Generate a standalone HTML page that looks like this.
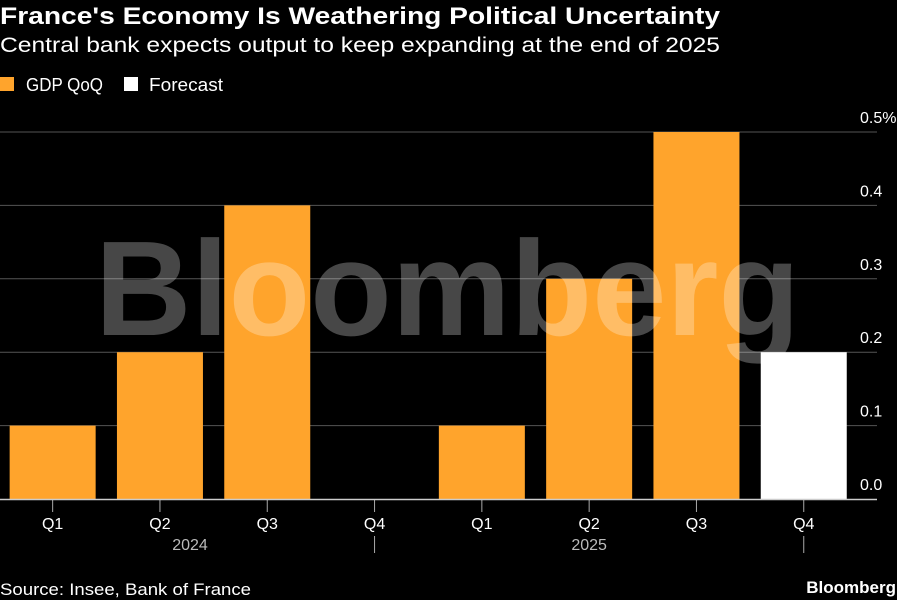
<!DOCTYPE html>
<html><head><meta charset="utf-8"><style>
body{margin:0;background:#000;width:897px;height:600px;overflow:hidden;font-family:"Liberation Sans",sans-serif;color:#fff}
svg{position:absolute;left:0;top:0}
</style></head><body>
<svg width="897" height="600">
<text x="0" y="24" font-size="24" font-weight="bold" fill="#fff" textLength="720" lengthAdjust="spacingAndGlyphs">France's Economy Is Weathering Political Uncertainty</text>
<text x="0" y="52" font-size="21" fill="#fff" textLength="720" lengthAdjust="spacingAndGlyphs">Central bank expects output to keep expanding at the end of 2025</text>
<rect x="0" y="77" width="14" height="14" fill="#ffa42c"/>
<text x="26" y="91" font-size="18" fill="#fff" textLength="77" lengthAdjust="spacingAndGlyphs">GDP QoQ</text>
<rect x="124" y="77" width="14" height="14" fill="#fff"/>
<text x="149" y="91" font-size="18" fill="#fff" textLength="74" lengthAdjust="spacingAndGlyphs">Forecast</text>
<g id="grid"></g>
<g id="bars"></g>
<text x="95" y="335" font-size="135" font-weight="bold" fill="#fff" fill-opacity="0.28" textLength="705" lengthAdjust="spacingAndGlyphs">Bloomberg</text>
<g id="axis"></g>
<text x="0" y="595" font-size="17" fill="#fff" textLength="251" lengthAdjust="spacingAndGlyphs">Source: Insee, Bank of France</text>
<text x="896" y="593" font-size="17" font-weight="bold" fill="#fff" text-anchor="end">Bloomberg</text>
</svg>
<script>
const categories=["Q1","Q2","Q3","Q4","Q1","Q2","Q3","Q4"];
const years=["2024","2025"];
const gdpValues=[0.1,0.2,0.4,0,0.1,0.3,0.5,null];
const forecastValues=[null,null,null,null,null,null,null,0.2];
const yTicks=[0,0.1,0.2,0.3,0.4,0.5];
const yTickLabels=["0.0","0.1","0.2","0.3","0.4","0.5%"];
const NS="http://www.w3.org/2000/svg";
const y0=499,y1=132,vmax=0.5;
const y=v=>y0-(v/vmax)*(y0-y1);
const step=107.3,x0=-1,bw=86;
const xc=i=>x0+step*(i+0.5);
function mk(tag,attrs,parent){const e=document.createElementNS(NS,tag);for(const k in attrs)e.setAttribute(k,attrs[k]);document.getElementById(parent).appendChild(e);return e;}
yTicks.forEach((t,i)=>{
  if(t>0){const l=mk("line",{x1:0,x2:877,y1:y(t),y2:y(t),stroke:"#555","stroke-width":1},"grid");
  
  }
  const tx=mk("text",{x:860,y:y(t)-9,"font-size":16,fill:"#fff"},"grid");
  tx.textContent=yTickLabels[i];
  
  
});
categories.forEach((c,i)=>{
  const g=gdpValues[i],f=forecastValues[i];
  if(g){const r=mk("rect",{x:xc(i)-bw/2,y:y(g),width:bw,height:y0-y(g),fill:"#ffa42c"},"bars");
    
    }
  if(f){const r=mk("rect",{x:xc(i)-bw/2,y:y(f),width:bw,height:y0-y(f),fill:"#fff"},"bars");
    
    }
  const tk=mk("line",{x1:xc(i),x2:xc(i),y1:y0,y2:512,stroke:"#aaa"},"axis");
  
  
  const t=mk("text",{x:xc(i),y:529,"font-size":16,fill:"#fff","text-anchor":"middle"},"axis");
  t.textContent=c;
  
  
  if(i%4==3){const s=mk("line",{x1:xc(i),x2:xc(i),y1:536,y2:553,stroke:"#aaa"},"axis");
    
    }
});
years.forEach((yr,j)=>{
  const t=mk("text",{x:j==0?190:xc(5),y:550,"font-size":16,fill:"#bbb","text-anchor":"middle"},"axis");
  t.textContent=yr;
  
  
});
const ax=mk("line",{x1:0,x2:877,y1:y0+0.5,y2:y0+0.5,stroke:"#ccc","stroke-width":1.5},"axis");


</script>
</body></html>
